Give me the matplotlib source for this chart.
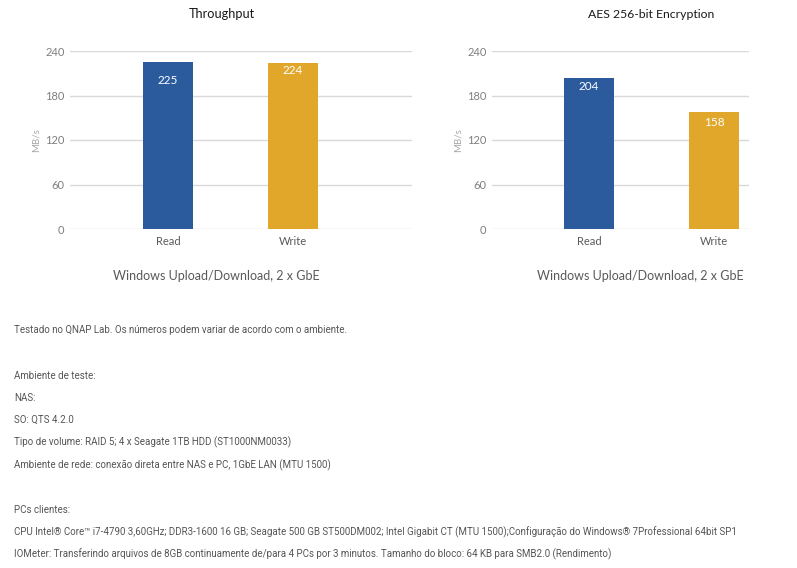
import matplotlib
matplotlib.use("Agg")
import matplotlib.pyplot as plt

# ---- data ----
categories = ["Read", "Write"]
throughput = [225, 224]
aes = [204, 158]
yticks = [0, 60, 120, 180, 240]
titles = ["Throughput", "AES 256-bit Encryption"]
subtitle = "Windows Upload/Download, 2 x GbE"
ylabel = "MB/s"
notes = [
    "Testado no QNAP Lab. Os números podem variar de acordo com o ambiente.",
    "Ambiente de teste:",
    "NAS:",
    "SO: QTS 4.2.0",
    "Tipo de volume: RAID 5; 4 x Seagate 1TB HDD (ST1000NM0033)",
    "Ambiente de rede: conexão direta entre NAS e PC, 1GbE LAN (MTU 1500)",
    "PCs clientes:",
    "CPU Intel® Core™ i7-4790 3,60GHz; DDR3-1600 16 GB; Seagate 500 GB ST500DM002; Intel Gigabit CT (MTU 1500);Configuração do Windows® 7Professional 64bit SP1",
    "IOMeter: Transferindo arquivos de 8GB continuamente de/para 4 PCs por 3 minutos. Tamanho do bloco: 64 KB para SMB2.0 (Rendimento)",
]

# ---- style ----
W, H = 797, 568
colors = ["#2B5B9D", "#E1A72B"]
chart_font = ["Lato", "DejaVu Sans"]
note_font = ["Roboto", "DejaVu Sans"]
note_y = [330, 376, 398, 420, 442, 465, 510, 532, 554]

fig = plt.figure(figsize=(W / 100, H / 100), dpi=100)
fig.patch.set_facecolor("white")


def px_axes(x0, x1, ytop, ybot):
    return fig.add_axes([x0 / W, 1 - ybot / H, (x1 - x0) / W, (ybot - ytop) / H])


def draw_chart(ax, values, xlim, title, title_x, title_size, sub_x, label_offsets):
    x = list(range(len(categories)))
    ax.bar(x, values, width=0.4, color=colors, zorder=3)
    ax.set_xlim(*xlim)
    ax.set_ylim(0, 240)
    ax.set_yticks(yticks)
    ax.set_yticklabels([str(t) for t in yticks], family=chart_font, fontsize=8, color="#7F7F7F")
    ax.set_xticks(x)
    ax.set_xticklabels(categories, family=chart_font, fontsize=8, color="#595959")
    ax.tick_params(axis="y", length=0, pad=4)
    ax.tick_params(axis="x", length=0, pad=5)
    ax.grid(axis="y", color="#D9D9D9", linewidth=1, zorder=0)
    for s in ax.spines.values():
        s.set_visible(False)
    ax.set_ylabel(ylabel, family=chart_font, fontsize=7, color="#A6A6A6", labelpad=3)
    for xi, v, off in zip(x, values, label_offsets):
        ax.annotate(str(v), (xi, v), xytext=(0, -off), textcoords="offset pixels",
                    ha="center", va="center", color="white", fontsize=8.5,
                    family=chart_font)
    fig.text(title_x / W, 1 - 14 / H, title, ha="center", va="center",
             family=chart_font, fontsize=title_size, color="#1A1A1A")
    fig.text(sub_x / W, 1 - 276 / H, subtitle, ha="center", va="center",
             family=chart_font, fontsize=9, color="#595959")


ax1 = px_axes(70, 412, 51, 229)
draw_chart(ax1, throughput, (-0.784, 1.952), titles[0], 222, 9.2, 216, [18, 8])

ax2 = px_axes(492, 749, 51, 229)
draw_chart(ax2, aes, (-0.776, 1.28), titles[1], 651, 8.8, 640, [9, 11])

for y, t in zip(note_y, notes):
    fig.text(14 / W, 1 - y / H, t, ha="left", va="center", family=note_font,
             fontsize=7, color="#555555")

fig.savefig("out.png", dpi=100)
